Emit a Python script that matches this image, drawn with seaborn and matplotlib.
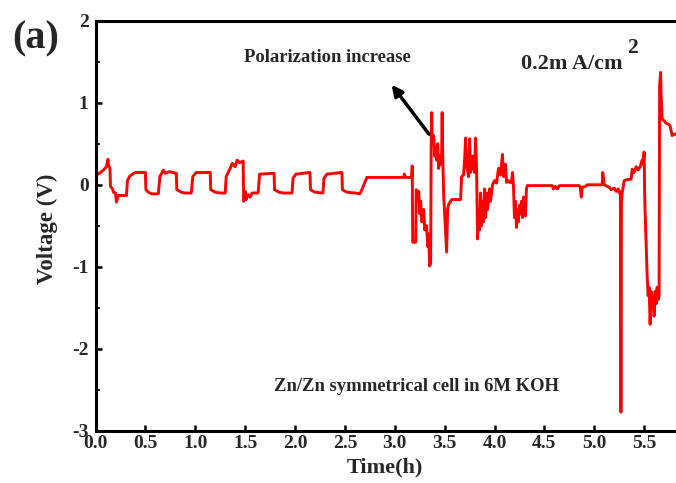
import numpy as np
import pandas as pd
import matplotlib
matplotlib.use("Agg")
import matplotlib.pyplot as plt
from matplotlib.ticker import MultipleLocator, FormatStrFormatter
import seaborn as sns

# ---- data ----
time_h = [
    0.00, 0.04, 0.08, 0.11, 0.125, 0.13, 0.145, 0.15, 0.17, 0.18, 0.20, 0.21, 0.23, 0.31,
    0.32, 0.34, 0.37, 0.40, 0.50, 0.505, 0.53, 0.56, 0.63, 0.645, 0.68, 0.70, 0.74, 0.81,
    0.815, 0.86, 0.89, 0.96, 0.975, 1.01, 1.15, 1.155, 1.20, 1.25, 1.30, 1.31, 1.35, 1.37,
    1.40, 1.42, 1.445, 1.48, 1.485, 1.50, 1.51, 1.53, 1.55, 1.57, 1.63, 1.645, 1.79, 1.795,
    1.84, 1.88, 1.97, 1.98, 2.01, 2.15, 2.155, 2.20, 2.28, 2.29, 2.32, 2.47, 2.475, 2.52,
    2.60, 2.65, 2.67, 2.72, 3.09, 3.095, 3.11, 3.17, 3.175, 3.18,
    3.21, 3.215, 3.23, 3.24, 3.25, 3.26, 3.27, 3.29, 3.30, 3.32, 3.33, 3.34, 3.35, 3.36,
    3.365, 3.37, 3.375, 3.39, 3.40, 3.41, 3.42, 3.43, 3.44, 3.45, 3.46, 3.47, 3.475, 3.48,
    3.49, 3.50, 3.52, 3.53, 3.54, 3.56, 3.57, 3.66, 3.67, 3.69, 3.70, 3.71, 3.72, 3.74,
    3.75, 3.76, 3.77, 3.78, 3.80, 3.81, 3.82, 3.83, 3.84, 3.85, 3.86, 3.87, 3.88, 3.89,
    3.90, 3.91, 3.92, 3.93, 3.95, 3.96, 3.98, 4.00, 4.02, 4.04, 4.06, 4.08, 4.09, 4.11,
    4.12, 4.14, 4.15, 4.17, 4.18, 4.19, 4.20, 4.21, 4.22, 4.23, 4.24, 4.25, 4.26, 4.27,
    4.28, 4.29, 4.31, 4.32, 4.33,
    4.58, 4.59, 4.61, 4.63, 4.65, 4.85, 4.86, 4.87, 4.88, 4.91, 4.93, 5.08, 5.085, 5.10,
    5.15, 5.17, 5.20, 5.22, 5.24, 5.25, 5.262, 5.267, 5.272, 5.28, 5.30, 5.32, 5.37, 5.38,
    5.40, 5.42, 5.44, 5.46, 5.48, 5.49, 5.50, 5.505, 5.51, 5.53, 5.54, 5.55, 5.56, 5.57,
    5.58, 5.59, 5.60, 5.61, 5.62, 5.63, 5.64, 5.65, 5.655, 5.665, 5.67, 5.68, 5.70, 5.72,
    5.74, 5.76, 5.78, 5.80, 5.85, 5.90,
]
voltage_v = [
    0.12, 0.14, 0.18, 0.22, 0.31, 0.24, 0.20, -0.02, -0.05, -0.09, -0.10, -0.21, -0.13, -0.13,
    0.05, 0.10, 0.13, 0.15, 0.15, -0.06, -0.09, -0.11, -0.11, 0.10, 0.18, 0.14, 0.16, 0.14,
    -0.06, -0.09, -0.10, -0.10, 0.10, 0.15, 0.15, -0.06, -0.09, -0.10, -0.10, 0.10, 0.20, 0.26,
    0.22, 0.30, 0.27, 0.29, -0.20, -0.08, -0.18, -0.12, -0.15, -0.10, -0.10, 0.13, 0.14, -0.06,
    -0.09, -0.10, -0.10, 0.08, 0.13, 0.15, -0.06, -0.09, -0.10, 0.08, 0.13, 0.15, -0.06, -0.09,
    -0.10, -0.11, -0.06, 0.09, 0.09, 0.13, 0.09, 0.09, 0.23, -0.70,
    -0.70, -0.06, -0.15, -0.08, -0.35, -0.20, -0.45, -0.30, -0.55, -0.50, -0.75, -0.60, -0.99, -0.95,
    0.50, 0.88, 0.55, 0.60, 0.35, 0.45, 0.30, 0.50, 0.20, 0.35, 0.25, 0.40, 0.88, 0.40,
    -0.12, -0.35, -0.82, -0.30, -0.24, -0.20, -0.18, -0.18, 0.10, 0.12, 0.30, 0.57, 0.25, 0.10,
    0.56, 0.15, 0.20, 0.35, 0.15, 0.57, 0.20, -0.66, -0.30, -0.55, -0.10, -0.50, -0.20, -0.45,
    -0.05, -0.40, -0.10, -0.30, -0.05, -0.20, 0.00, 0.05, 0.02, 0.20, 0.12, 0.37, 0.10, 0.25,
    0.03, 0.05, 0.03, 0.03, 0.15, -0.02, -0.40, -0.20, -0.52, -0.30, -0.45, -0.25, -0.35, -0.20,
    -0.40, -0.15, -0.38, -0.05, -0.01,
    -0.01, -0.05, -0.02, -0.05, -0.01, -0.01, -0.03, -0.15, -0.03, -0.02, 0.00, 0.00, 0.15, 0.00,
    -0.03, -0.06, -0.04, -0.08, -0.05, -0.10, -0.08, -2.77, -0.22, -0.10, 0.05, 0.06, 0.07, 0.19,
    0.15, 0.22, 0.18, 0.22, 0.30, 0.25, 0.40, -0.10, -0.34, -1.10, -1.35, -1.25, -1.70, -1.30,
    -1.50, -1.35, -1.60, -1.30, -1.45, -1.25, -1.40, -1.35, 1.20, 1.37, 1.10, 0.80, 0.78, 0.75,
    0.74, 0.72, 0.60, 0.62, 0.60, 0.60,
]

x_ticks = [0.0, 0.5, 1.0, 1.5, 2.0, 2.5, 3.0, 3.5, 4.0, 4.5, 5.0, 5.5]
y_ticks = [-3, -2, -1, 0, 1, 2]
x_label = "Time(h)"
y_label = "Voltage (V)"

sns.set_theme(style="ticks")
plt.rcParams["font.family"] = ["Liberation Serif", "DejaVu Serif"]
plt.rcParams["font.weight"] = "bold"
plt.rcParams["axes.unicode_minus"] = False

df = pd.DataFrame({"Time": time_h, "Voltage": voltage_v})

fig = plt.figure(figsize=(6.76, 4.83), dpi=100)
ax = fig.add_axes([0.1413, 0.1077, 0.8706, 0.8495])
sns.lineplot(data=df, x="Time", y="Voltage", ax=ax, color="#ff0000", linewidth=2.1,
             sort=False, estimator=None, legend=False)

ax.set_xlim(0, 5.9)
ax.set_ylim(-3, 2)
ax.set_xticks(x_ticks)
ax.xaxis.set_major_formatter(FormatStrFormatter("%.1f"))
ax.set_yticks(y_ticks)
ax.yaxis.set_major_formatter(FormatStrFormatter("%d"))
ax.yaxis.set_minor_locator(MultipleLocator(0.5))
ax.tick_params(axis="both", which="major", direction="in", length=4, width=1.8,
               labelsize=14, color="black")
ax.tick_params(axis="x", pad=3)
ax.tick_params(axis="y", pad=5)
ax.tick_params(axis="y", which="minor", direction="in", length=3, width=1.5)
for lbl in ax.get_xticklabels() + ax.get_yticklabels():
    lbl.set_fontweight("bold")
for s in ax.spines.values():
    s.set_linewidth(2.2)
    s.set_color("black")

ax.set_xlabel(x_label, fontsize=16, fontweight="bold")
ax.set_ylabel(y_label, fontsize=16.5, fontweight="bold")
ax.xaxis.label.set_va("center")
ax.yaxis.label.set_va("center")
ax.xaxis.set_label_coords(0.492, -0.088)
ax.yaxis.set_label_coords(-0.0824, 0.492)

fig.text(36 / 676, 1 - 39 / 483, "(a)", fontsize=29, fontweight="bold",
         ha="center", va="center")
ax.text(2.32, 1.55, "Polarization increase", fontsize=13.4, fontweight="bold",
        ha="center", va="center")
ax.text(4.27, 1.412, "0.2m A/cm", fontsize=16, fontweight="bold",
        ha="left", va="baseline")
ax.text(5.33, 1.60, "2", fontsize=15.5, fontweight="bold", ha="left", va="baseline")
ax.text(1.786, -2.513, "Zn/Zn symmetrical cell in 6M KOH", fontsize=13.4,
        fontweight="bold", ha="left", va="baseline")
ax.annotate("", xy=(2.952, 1.246), xytext=(3.36, 0.59),
            arrowprops=dict(arrowstyle="-|>", lw=2.5, color="black", mutation_scale=16))

fig.savefig("out.png", dpi=100)
